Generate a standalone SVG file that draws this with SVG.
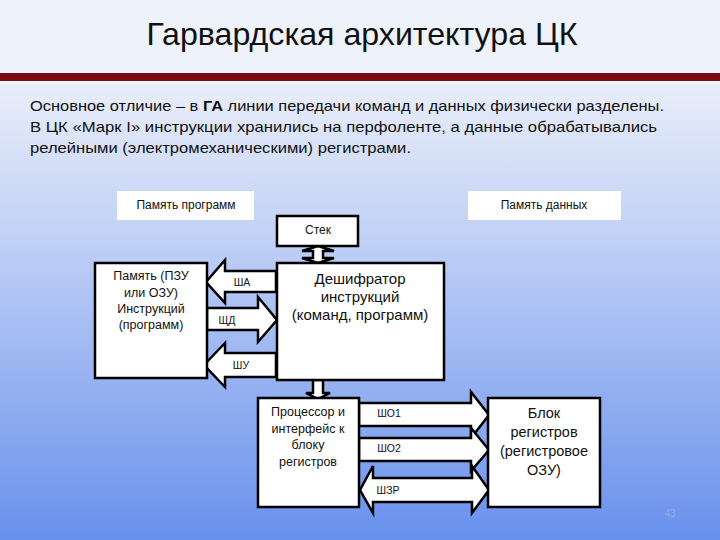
<svg xmlns="http://www.w3.org/2000/svg" width="720" height="540" viewBox="0 0 720 540">
<defs>
<linearGradient id="bg" x1="0" y1="0" x2="0" y2="1">
<stop offset="0" stop-color="#f3f6fb"/>
<stop offset="0.16" stop-color="#e8edf9"/>
<stop offset="0.45" stop-color="#bfcff5"/>
<stop offset="1" stop-color="#6890ed"/>
</linearGradient>
<style>
.t{font-family:"Liberation Sans",Arial,sans-serif;fill:#111;}
.box{fill:#fff;stroke:#000;stroke-width:2.5;}
.plain{fill:#fff;}
.arr{fill:#fff;stroke:#000;stroke-width:2.5;stroke-linejoin:miter;}
.c{text-anchor:middle;}
.s12{font-size:12.5px;}
.s15{font-size:15px;}
.s14{font-size:14.5px;}
.lbl{font-size:10.5px;text-anchor:middle;}
</style>
</defs>
<rect x="0" y="0" width="720" height="540" fill="url(#bg)"/>
<rect x="0" y="0" width="720" height="73" fill="#eef2fa"/>
<rect x="0" y="73" width="720" height="8" fill="#7a0c12"/>
<rect x="0" y="81" width="720" height="2" fill="#f6f8fc"/>
<text class="t c" x="362" y="45" font-family="Liberation Sans Narrow, Liberation Sans, sans-serif" font-size="32" textLength="431" lengthAdjust="spacingAndGlyphs">Гарвардская архитектура ЦК</text>
<text class="t s15" x="30" y="111" textLength="634" lengthAdjust="spacingAndGlyphs">Основное отличие – в <tspan font-weight="bold">ГА</tspan> линии передачи команд и данных физически разделены.</text>
<text class="t s15" x="30" y="132" textLength="627" lengthAdjust="spacingAndGlyphs">В ЦК «Марк I» инструкции хранились на перфоленте, а данные обрабатывались</text>
<text class="t s15" x="30" y="153" textLength="381" lengthAdjust="spacingAndGlyphs">релейными (электромеханическими) регистрами.</text>

<g id="connectors">
<polygon class="arr" points="276,271 225,271 225,260 206,282 225,303 225,292 276,292"/>
<polygon class="arr" points="207,308 258,308 258,297 277,320 258,342 258,330 207,330"/>
<polygon class="arr" points="276,353 225,353 225,343 204,365 225,387 225,377 276,377"/>
<polygon class="arr" points="318,246 334,251 323,251 323,258 334,258 318,263 302,258 313,258 313,251 302,251"/>
<polygon class="arr" points="313,380 323,380 323,393 330,393 318,399 306,393 313,393"/>
<polygon class="arr" points="359,403 471,403 471,392 489,415 471,438 471,426 359,426"/>
<polygon class="arr" points="359,438 471,438 471,428 489,450 471,471 471,461 359,461"/>
<polygon class="arr" points="373,478 472,478 472,466 489,490 472,513 472,502 373,502 373,513 360,490 373,466"/>
<text class="t lbl" x="242" y="286">ША</text>
<text class="t lbl" x="227" y="324">ЩД</text>
<text class="t lbl" x="241" y="369">ШУ</text>
<text class="t lbl" x="389" y="417">ШО1</text>
<text class="t lbl" x="389" y="452">ШО2</text>
<text class="t lbl" x="388" y="494">ШЗР</text>
</g>

<g id="mem-prog-label">
<rect class="plain" x="117" y="191" width="137" height="29"/>
<text class="t c" x="186" y="209" font-size="12">Память программ</text>
</g>
<g id="mem-data-label">
<rect class="plain" x="468" y="191" width="153" height="29"/>
<text class="t c" x="544" y="209" font-size="12">Память данных</text>
</g>
<g id="stack">
<rect class="box" x="277" y="216" width="81" height="30"/>
<text class="t c" x="318" y="234" font-size="12">Стек</text>
</g>
<g id="decoder">
<rect class="box" x="277" y="263" width="167" height="117"/>
<text class="t c s15" x="360" y="284">Дешифратор</text>
<text class="t c s15" x="360" y="302">инструкций</text>
<text class="t c s15" x="360" y="320">(команд, программ)</text>
</g>
<g id="memory">
<rect class="box" x="95" y="263" width="112" height="115"/>
<text class="t c s12" x="151" y="280">Память (ПЗУ</text>
<text class="t c s12" x="151" y="297">или ОЗУ)</text>
<text class="t c s12" x="151" y="313">Инструкций</text>
<text class="t c s12" x="151" y="329">(программ)</text>
</g>
<g id="processor">
<rect class="box" x="258" y="398" width="101" height="109"/>
<text class="t c s12" x="308" y="416">Процессор и</text>
<text class="t c s12" x="308" y="433">интерфейс к</text>
<text class="t c s12" x="308" y="449">блоку</text>
<text class="t c s12" x="308" y="466">регистров</text>
</g>
<g id="registers">
<rect class="box" x="488" y="398" width="112" height="109"/>
<text class="t c s14" x="544" y="418">Блок</text>
<text class="t c s14" x="544" y="437">регистров</text>
<text class="t c s14" x="544" y="456">(регистровое</text>
<text class="t c s14" x="544" y="475">ОЗУ)</text>
</g>
<text x="670" y="517" font-family="Liberation Sans, sans-serif" font-size="10" fill="#92abe8" text-anchor="middle">43</text>
</svg>
